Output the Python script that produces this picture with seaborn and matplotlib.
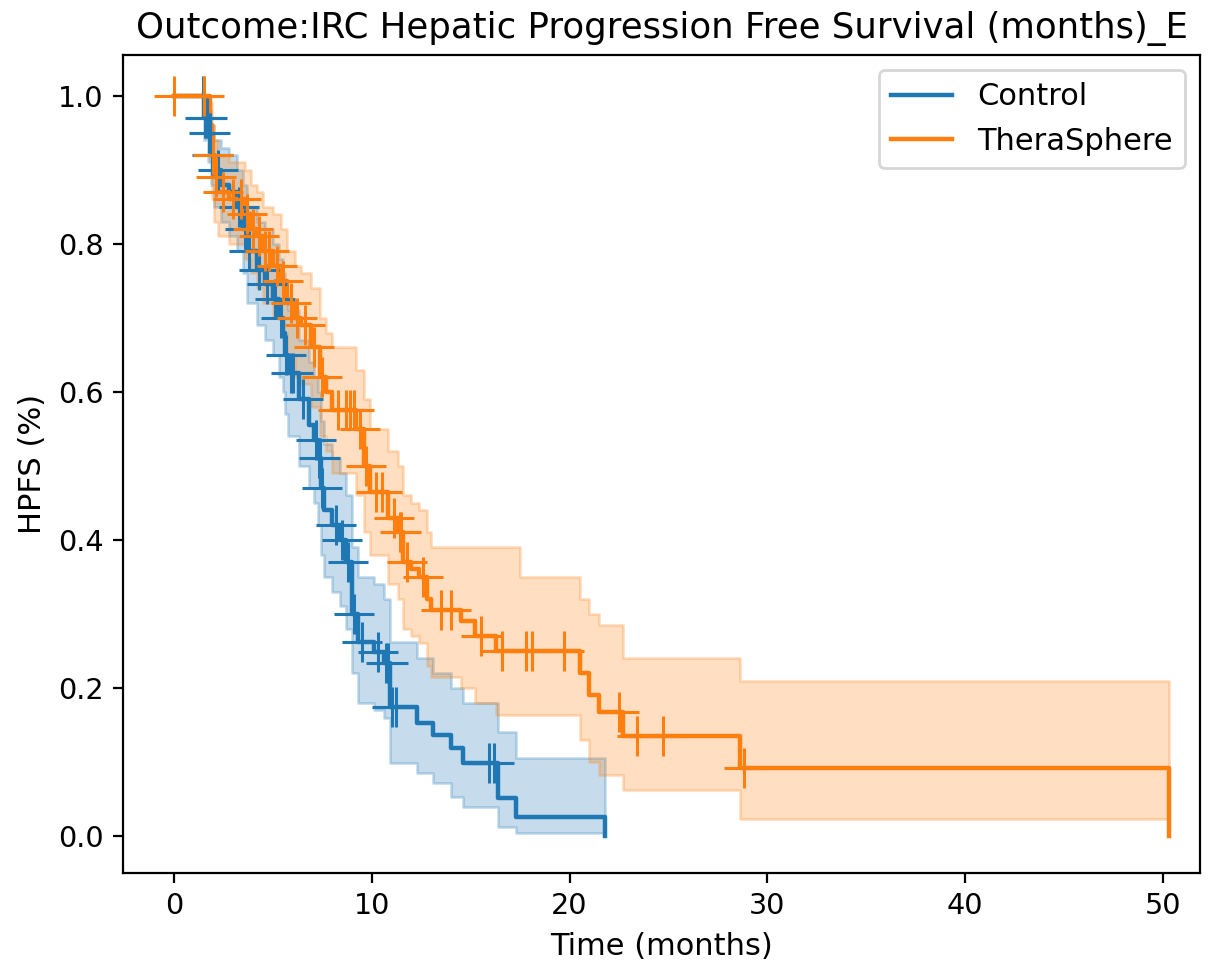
import numpy as np
import pandas as pd
import matplotlib
matplotlib.use("Agg")
import matplotlib.pyplot as plt
import seaborn as sns

# Kaplan-Meier estimates: step times (months), survival, 95% CI bounds, censored times
groups = ["Control", "TheraSphere"]
group_colors = ["#1f77b4", "#ff7f0e"]

ctrl_time = [0, 1.5, 1.7, 1.85, 2.0, 2.4, 2.8, 3.2, 3.5, 3.7, 4.2, 4.6, 5.0, 5.3, 5.5,
             5.6, 5.75, 6.3, 6.8, 7.1, 7.3, 7.45, 7.6, 8.0, 8.4, 8.7, 9.0, 9.3, 10.1,
             10.6, 10.9, 12.3, 13.1, 14.0, 14.6, 16.4, 17.3, 21.8]
ctrl_surv = [1.0, 0.97, 0.95, 0.92, 0.90, 0.88, 0.87, 0.85, 0.82, 0.79, 0.765, 0.745,
             0.725, 0.70, 0.68, 0.65, 0.625, 0.59, 0.555, 0.535, 0.51, 0.47, 0.44, 0.42,
             0.40, 0.37, 0.30, 0.262, 0.249, 0.234, 0.174, 0.153, 0.136, 0.119, 0.099,
             0.051, 0.026, 0.0]
ctrl_lower = [1.0, 0.94, 0.91, 0.88, 0.85, 0.83, 0.81, 0.79, 0.76, 0.72, 0.69, 0.67,
              0.65, 0.62, 0.60, 0.57, 0.54, 0.50, 0.47, 0.45, 0.42, 0.38, 0.35, 0.33,
              0.31, 0.28, 0.22, 0.18, 0.17, 0.16, 0.099, 0.085, 0.072, 0.053, 0.039,
              0.012, 0.004, 0.004]
ctrl_upper = [1.0, 0.99, 0.98, 0.96, 0.94, 0.93, 0.92, 0.90, 0.88, 0.85, 0.83, 0.82,
              0.80, 0.78, 0.76, 0.73, 0.71, 0.67, 0.64, 0.62, 0.60, 0.56, 0.53, 0.51,
              0.49, 0.46, 0.39, 0.35, 0.34, 0.32, 0.262, 0.24, 0.22, 0.20, 0.18,
              0.14, 0.105, 0.105]
ctrl_censor = [1.45, 1.55, 1.6, 1.65, 1.75, 1.8, 1.9, 1.95, 2.2, 3.3, 3.6, 3.8, 4.3,
               4.7, 5.1, 5.4, 5.65, 5.9, 6.0, 6.5, 7.2, 7.35, 7.4, 7.5, 8.2, 8.5, 8.8,
               9.1, 9.5, 10.3, 10.7, 10.8, 11.0, 11.2, 15.9, 16.2]

ther_time = [0, 1.8, 1.9, 2.0, 2.2, 2.8, 3.6, 3.9, 4.2, 4.5, 5.0, 5.4, 5.7, 6.1, 6.4,
             6.9, 7.4, 7.7, 8.0, 9.2, 9.6, 9.9, 10.8, 11.3, 11.6, 12.0, 12.4, 12.8,
             13.0, 14.5, 15.2, 16.3, 17.5, 20.5, 21.0, 21.5, 22.7, 28.6, 50.3]
ther_surv = [1.0, 0.96, 0.92, 0.89, 0.87, 0.86, 0.84, 0.82, 0.81, 0.79, 0.77, 0.75,
             0.72, 0.70, 0.69, 0.66, 0.62, 0.60, 0.575, 0.55, 0.50, 0.465, 0.43, 0.41,
             0.37, 0.36, 0.35, 0.32, 0.305, 0.29, 0.27, 0.25, 0.25, 0.22, 0.19, 0.168,
             0.135, 0.092, 0.0]
ther_lower = [1.0, 0.91, 0.86, 0.83, 0.81, 0.80, 0.78, 0.76, 0.74, 0.72, 0.70, 0.68,
              0.65, 0.62, 0.61, 0.58, 0.54, 0.52, 0.49, 0.46, 0.41, 0.38, 0.34, 0.32,
              0.28, 0.27, 0.26, 0.23, 0.215, 0.20, 0.18, 0.163, 0.163, 0.13, 0.10,
              0.082, 0.062, 0.023, 0.023]
ther_upper = [1.0, 0.99, 0.96, 0.94, 0.92, 0.91, 0.90, 0.88, 0.87, 0.85, 0.84, 0.82,
              0.79, 0.77, 0.76, 0.74, 0.70, 0.68, 0.66, 0.63, 0.59, 0.55, 0.52, 0.50,
              0.46, 0.45, 0.44, 0.41, 0.39, 0.39, 0.39, 0.39, 0.35, 0.32, 0.30, 0.285,
              0.24, 0.21, 0.21]
ther_censor = [0.0, 1.5, 1.95, 2.1, 2.5, 3.0, 3.4, 3.7, 4.0, 4.3, 4.6, 4.8, 5.2, 5.5,
               5.9, 6.2, 6.6, 7.1, 7.5, 8.3, 8.7, 8.9, 9.1, 9.4, 9.7, 10.2, 10.5, 11.1,
               11.4, 11.5, 11.8, 12.6, 13.5, 14.0, 15.5, 16.6, 17.8, 18.1, 19.7, 22.5,
               23.4, 24.7, 28.8]

curves = {
    "Control": (ctrl_time, ctrl_surv, ctrl_lower, ctrl_upper, ctrl_censor),
    "TheraSphere": (ther_time, ther_surv, ther_lower, ther_upper, ther_censor),
}

df = pd.concat(
    [pd.DataFrame({"time": c[0], "surv": c[1], "group": g}) for g, c in curves.items()],
    ignore_index=True,
)

fig = plt.figure(figsize=(6.125, 4.865), dpi=200)
ax = fig.add_axes([0.1004, 0.1028, 0.8792, 0.8407])

palette = dict(zip(groups, group_colors))

for g, color in zip(groups, group_colors):
    t, s, lo, hi, cens = curves[g]
    t = np.asarray(t)
    s = np.asarray(s)
    ax.fill_between(t, lo, hi, step="post", color=color, alpha=0.25, linewidth=1.0, zorder=1)
    idx = np.searchsorted(t, cens, side="right") - 1
    ax.plot(cens, s[idx], linestyle="", marker="+", ms=14.5, mew=1.1, color=color, zorder=3)

sns.lineplot(data=df, x="time", y="surv", hue="group", hue_order=groups,
             palette=palette, drawstyle="steps-post", estimator=None,
             linewidth=1.6, ax=ax, legend=False, zorder=2)

handles = [plt.Line2D([], [], color=c, lw=1.6) for c in group_colors]
ax.legend(handles, groups, loc="upper right", fontsize=11)

ax.set_xlim(-2.58, 51.87)
ax.set_ylim(-0.05, 1.055)
ax.set_xticks([0, 10, 20, 30, 40, 50])
ax.set_yticks([0.0, 0.2, 0.4, 0.6, 0.8, 1.0])
ax.tick_params(labelsize=10.3)
ax.set_xlabel("Time (months)", fontsize=11)
ax.set_ylabel("HPFS (%)", fontsize=11)
ax.set_title("Outcome:IRC Hepatic Progression Free Survival (months)_E", fontsize=12.8)

fig.savefig("out.png", dpi=200)
